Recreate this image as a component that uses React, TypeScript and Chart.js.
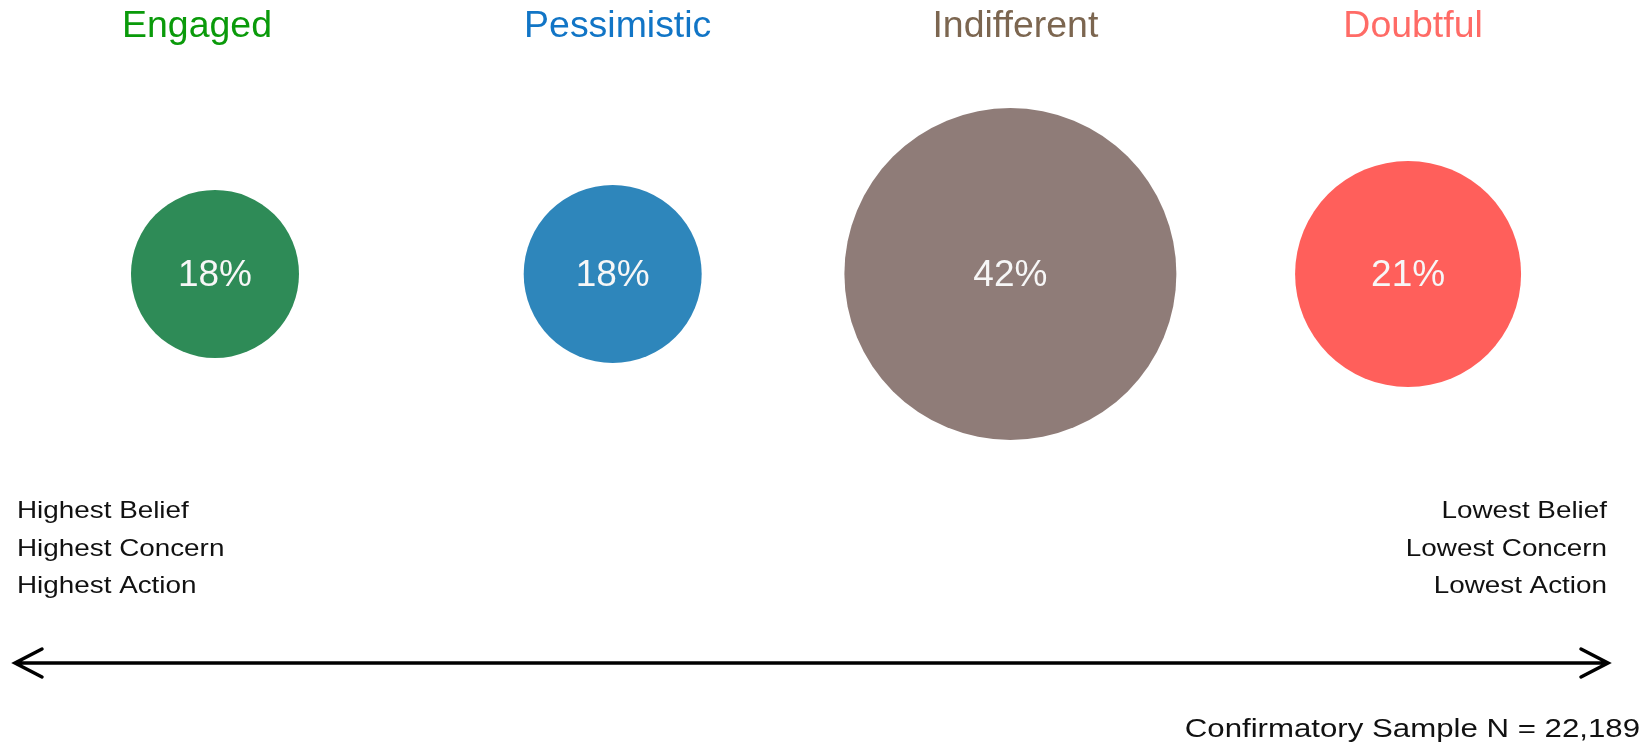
import React, { useEffect, useRef } from "react";
import { Chart, registerables } from "chart.js";

Chart.register(...registerables);

const segments = ["Engaged", "Pessimistic", "Indifferent", "Doubtful"];
const shares = [18, 18, 42, 21];
const bubbleRadii = [84, 89, 166, 113];
const bubbleColors = ["#2E8B57", "#2E86BB", "#8F7C78", "#FF5F5B"];
const titleColors = ["#0A9A0A", "#1175C6", "#7C6650", "#FF6B66"];
const leftLabels = ["Highest Belief", "Highest Concern", "Highest Action"];
const rightLabels = ["Lowest Belief", "Lowest Concern", "Lowest Action"];
const footerText = "Confirmatory Sample N = 22,189";

const FONT = "'Liberation Sans', Arial, sans-serif";

function stretchedText(
  ctx: CanvasRenderingContext2D,
  text: string,
  x: number,
  y: number,
  sx: number,
  align: CanvasTextAlign
) {
  ctx.save();
  ctx.translate(x, y);
  ctx.scale(sx, 1);
  ctx.textAlign = align;
  ctx.fillText(text, 0, 0);
  ctx.restore();
}

const overlayPlugin = {
  id: "overlay",
  afterDatasetsDraw(chart: any) {
    const ctx: CanvasRenderingContext2D = chart.ctx;
    const meta = chart.getDatasetMeta(0);
    ctx.save();
    // percentages inside bubbles
    ctx.font = `37px ${FONT}`;
    ctx.fillStyle = "#F7F7F7";
    ctx.textAlign = "center";
    ctx.textBaseline = "middle";
    meta.data.forEach((el: any, i: number) => {
      ctx.fillText(`${shares[i]}%`, el.x, el.y + 2);
    });
    // titles
    ctx.font = `36px ${FONT}`;
    ctx.textBaseline = "alphabetic";
    meta.data.forEach((el: any, i: number) => {
      ctx.fillStyle = titleColors[i];
      stretchedText(ctx, segments[i], el.x - (i === 0 ? 18 : -5), 37, 1.04, "center");
    });
    // side labels
    ctx.font = `24px ${FONT}`;
    ctx.fillStyle = "#111111";
    const baselines = [518, 556, 593];
    leftLabels.forEach((t, i) => stretchedText(ctx, t, 17, baselines[i], 1.16, "left"));
    rightLabels.forEach((t, i) => stretchedText(ctx, t, 1607, baselines[i], 1.16, "right"));
    // arrow
    const ay = 663;
    const x0 = 15;
    const x1 = 1608;
    ctx.strokeStyle = "#000000";
    ctx.lineWidth = 3.5;
    ctx.lineCap = "round";
    ctx.beginPath();
    ctx.moveTo(x0, ay);
    ctx.lineTo(x1, ay);
    ctx.moveTo(x0 + 27, ay - 14);
    ctx.lineTo(x0, ay);
    ctx.lineTo(x0 + 27, ay + 14);
    ctx.moveTo(x1 - 27, ay - 14);
    ctx.lineTo(x1, ay);
    ctx.lineTo(x1 - 27, ay + 14);
    ctx.stroke();
    // footer
    ctx.font = `26px ${FONT}`;
    ctx.fillStyle = "#111111";
    stretchedText(ctx, footerText, 1640, 737, 1.2, "right");
    ctx.restore();
  },
};

export default function App() {
  const canvasRef = useRef<HTMLCanvasElement | null>(null);

  useEffect(() => {
    document.body.style.margin = "0";
    const canvas = canvasRef.current;
    if (!canvas) return;
    const chart = new Chart(canvas, {
      type: "bubble",
      data: {
        labels: segments,
        datasets: [
          {
            label: "Share",
            data: segments.map((_, i) => ({ x: i, y: 0, r: bubbleRadii[i] })),
            backgroundColor: bubbleColors,
            borderWidth: 0,
            hoverBorderWidth: 0,
            clip: false,
          },
        ],
      },
      options: {
        responsive: false,
        animation: false,
        events: [],
        layout: { autoPadding: false, padding: { top: 0, left: 0, right: 0, bottom: 200 } },
        scales: {
          x: { type: "linear", min: -0.5406, max: 3.6083, display: false },
          y: { type: "linear", min: -1, max: 1, display: false },
        },
        plugins: {
          legend: { display: false },
          tooltip: { enabled: false },
        },
      },
      plugins: [overlayPlugin],
    });
    return () => chart.destroy();
  }, []);

  return (
    <div style={{ width: 1650, height: 748, background: "#ffffff" }}>
      <canvas ref={canvasRef} width={1650} height={748} style={{ display: "block" }} />
    </div>
  );
}
